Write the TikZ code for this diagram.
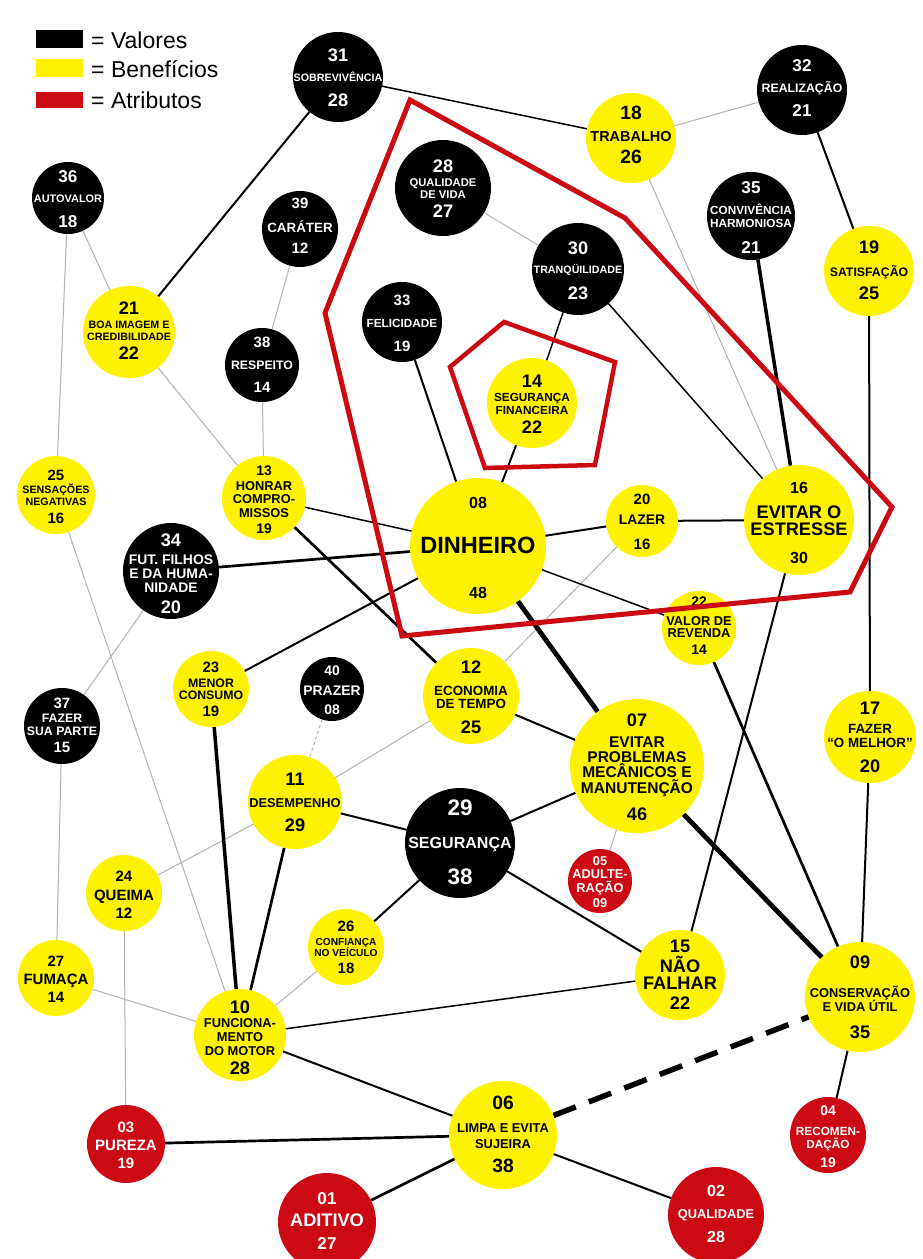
\documentclass[tikz,border=0pt]{standalone}
\usepackage{fontspec}
\setmainfont{Liberation Sans}
\definecolor{nyel}{RGB}{255,242,0}
\definecolor{nred}{RGB}{204,10,20}
\pgfdeclarelayer{bg}
\pgfsetlayers{bg,main}
\newcommand\ntl[3]{\makebox[0pt][c]{\raisebox{\dimexpr0pt-(#1pt)-#2pt*38/100\relax}[0pt][0pt]{\fontsize{\fpeval{#2*1.07}}{10}\selectfont #3}}}
\tikzset{
  nd/.style={circle, inner sep=0pt, outer sep=0pt, font=\bfseries},
  bn/.style={nd, fill=black, text=white},
  yn/.style={nd, fill=nyel, text=black},
  rn/.style={nd, fill=nred, text=white},
  gl/.style={draw=black!30, line width=1},
  ea/.style={draw=black, line width=1.5},
  eb/.style={draw=black, line width=2},
  ec/.style={draw=black, line width=2.7},
  ed/.style={draw=black, line width=3.5},
  ee/.style={draw=black, line width=4.8},
  redline/.style={draw=nred, line join=miter},
  legt/.style={anchor=west, inner sep=0pt, font=\fontsize{23}{23}\selectfont}
}
\begin{document}
\begin{tikzpicture}[x=1pt,y=-1pt]
\useasboundingbox (0,0) rectangle (922,1259);
\clip (0,0) rectangle (922,1259);
% legend
\fill[black] (36,30) rectangle (83,48);
\fill[nyel] (36,59) rectangle (83,77);
\fill[nred] (36,92) rectangle (83,108);
\node[legt] (lv) at (91,40) {= Valores};
\node[legt] (lb) at (91,69) {= Benefícios};
\node[legt] (la) at (91,100) {= Atributos};
% nodes
\node[bn,minimum size=90] (n31) at (338,77) {\ntl{-22}{17}{31}\ntl{1}{10}{SOBREVIVÊNCIA}\ntl{23}{17}{28}};
\node[yn,minimum size=90] (n18) at (631,138) {\ntl{-25}{18}{18}\ntl{-2}{13.5}{TRABALHO}\ntl{19}{18}{26}};
\node[bn,minimum size=90] (n32) at (802,90) {\ntl{-25}{16}{32}\ntl{-2}{11.5}{REALIZAÇÃO}\ntl{20}{16}{21}};
\node[bn,minimum size=88] (n35) at (751,216) {\ntl{-29}{16}{35}\ntl{-6}{11}{CONVIVÊNCIA}\ntl{7}{11}{HARMONIOSA}\ntl{31}{16}{21}};
\node[yn,minimum size=90] (n19) at (869,271) {\ntl{-24}{17}{19}\ntl{1}{11.5}{SATISFAÇÃO}\ntl{22}{17}{25}};
\node[bn,minimum size=72] (n36) at (68,198) {\ntl{-22}{16}{36}\ntl{1}{10.2}{AUTOVALOR}\ntl{23}{16}{18}};
\node[bn,minimum size=76] (n39) at (300,229) {\ntl{-26}{14}{39}\ntl{-1}{12.5}{CARÁTER}\ntl{19}{14}{12}};
\node[bn,minimum size=96] (n28) at (443,188) {\ntl{-22}{17}{28}\ntl{-5}{10.5}{QUALIDADE}\ntl{7}{10.5}{DE VIDA}\ntl{23}{17}{27}};
\node[bn,minimum size=92] (n30) at (578,269) {\ntl{-21}{17}{30}\ntl{1}{10}{TRANQÜILIDADE}\ntl{24}{17}{23}};
\node[bn,minimum size=80] (n33) at (402,322) {\ntl{-22}{14}{33}\ntl{1}{11}{FELICIDADE}\ntl{24}{14}{19}};
\node[yn,minimum size=90] (n14) at (532,403) {\ntl{-22}{17}{14}\ntl{-6}{11}{SEGURANÇA}\ntl{7}{11}{FINANCEIRA}\ntl{24}{17}{22}};
\node[yn,minimum size=136] (n08) at (478,546) {\ntl{-43}{15}{08}\ntl{-1}{22}{DINHEIRO}\ntl{47}{15}{48}};
\node[bn,minimum size=74] (n38) at (262,365) {\ntl{-23}{14}{38}\ntl{0}{11.5}{RESPEITO}\ntl{22}{14}{14}};
\node[yn,minimum size=92] (n21) at (129,332) {\ntl{-24}{17}{21}\ntl{-7}{10}{BOA IMAGEM E}\ntl{5}{10}{CREDIBILIDADE}\ntl{21}{17}{22}};
\node[yn,minimum size=78] (n25) at (56,495) {\ntl{-20}{14}{25}\ntl{-5}{10}{SENSAÇÕES}\ntl{7}{10}{NEGATIVAS}\ntl{23}{14}{16}};
\node[yn,minimum size=84] (n13) at (264,498) {\ntl{-27}{13}{13}\ntl{-12}{12}{HONRAR}\ntl{1}{12}{COMPRO-}\ntl{15}{12}{MISSOS}\ntl{31}{13}{19}};
\node[bn,minimum size=96] (n34) at (171,571) {\ntl{-31}{17}{34}\ntl{-11}{13}{FUT. FILHOS}\ntl{3}{13}{E DA HUMA-}\ntl{17}{13}{NIDADE}\ntl{36}{17}{20}};
\node[yn,minimum size=72] (n20) at (642,521) {\ntl{-22}{14}{20}\ntl{-1}{13}{LAZER}\ntl{23}{14}{16}};
\node[yn,minimum size=110] (n16) at (799,520) {\ntl{-32}{15}{16}\ntl{-8}{17}{EVITAR O}\ntl{9}{17}{ESTRESSE}\ntl{38}{15}{30}};
\node[yn,minimum size=74] (n22) at (699,628) {\ntl{-26}{13}{22}\ntl{-7}{12}{VALOR DE}\ntl{5}{12}{REVENDA}\ntl{22}{13}{14}};
\node[yn,minimum size=76] (n23) at (211,689) {\ntl{-22}{14}{23}\ntl{-6}{11.5}{MENOR}\ntl{6}{11.5}{CONSUMO}\ntl{22}{14}{19}};
\node[bn,minimum size=64] (n40) at (332,689) {\ntl{-18}{13}{40}\ntl{2}{13}{PRAZER}\ntl{21}{13}{08}};
\node[bn,minimum size=76] (n37) at (62,726) {\ntl{-23}{14}{37}\ntl{-8}{11.5}{FAZER}\ntl{5}{11.5}{SUA PARTE}\ntl{21}{14}{15}};
\node[yn,minimum size=96] (n12) at (471,696) {\ntl{-29}{17}{12}\ntl{-5}{12.5}{ECONOMIA}\ntl{8}{12.5}{DE TEMPO}\ntl{31}{17}{25}};
\node[yn,minimum size=134] (n07) at (637,766) {\ntl{-46}{17}{07}\ntl{-24}{14.5}{EVITAR}\ntl{-9}{14.5}{PROBLEMAS}\ntl{6}{14.5}{MECÂNICOS E}\ntl{22}{14.5}{MANUTENÇÃO}\ntl{48}{17}{46}};
\node[yn,minimum size=92] (n17) at (870,737) {\ntl{-29}{17}{17}\ntl{-8}{12.5}{FAZER}\ntl{6}{12.5}{“O MELHOR”}\ntl{29}{17}{20}};
\node[yn,minimum size=94] (n11) at (295,802) {\ntl{-23}{17}{11}\ntl{1}{12}{DESEMPENHO}\ntl{23}{17}{29}};
\node[bn,minimum size=110] (n29) at (460,843) {\ntl{-35}{21}{29}\ntl{0}{15}{SEGURANÇA}\ntl{34}{21}{38}};
\node[rn,minimum size=64] (n05) at (600,881) {\ntl{-20}{12}{05}\ntl{-7}{12}{ADULTE-}\ntl{7}{12}{RAÇÃO}\ntl{22}{12}{09}};
\node[yn,minimum size=76] (n24) at (124,893) {\ntl{-17}{14}{24}\ntl{2}{14}{QUEIMA}\ntl{20}{14}{12}};
\node[yn,minimum size=76] (n26) at (346,947) {\ntl{-21}{14}{26}\ntl{-5}{9.5}{CONFIANÇA}\ntl{6}{9.5}{NO VEÍCULO}\ntl{21}{14}{18}};
\node[yn,minimum size=76] (n27) at (56,978) {\ntl{-17}{14}{27}\ntl{1}{14}{FUMAÇA}\ntl{19}{14}{14}};
\node[yn,minimum size=90] (n15) at (680,975) {\ntl{-29}{17}{15}\ntl{-9}{17}{NÃO}\ntl{8}{17}{FALHAR}\ntl{28}{17}{22}};
\node[yn,minimum size=110] (n09) at (860,997) {\ntl{-35}{17}{09}\ntl{-4}{12}{CONSERVAÇÃO}\ntl{10}{12}{E VIDA ÚTIL}\ntl{35}{17}{35}};
\node[yn,minimum size=92] (n10) at (240,1035) {\ntl{-28}{17}{10}\ntl{-12}{12}{FUNCIONA-}\ntl{2}{12}{MENTO}\ntl{16}{12}{DO MOTOR}\ntl{33}{17}{28}};
\node[yn,minimum size=108] (n06) at (503,1135) {\ntl{-32}{18}{06}\ntl{-7}{12}{LIMPA E EVITA}\ntl{9}{12}{SUJEIRA}\ntl{31}{18}{38}};
\node[rn,minimum size=78] (n03) at (126,1144) {\ntl{-17}{14}{03}\ntl{1}{14}{PUREZA}\ntl{19}{14}{19}};
\node[rn,minimum size=98] (n01) at (327,1222) {\ntl{-24}{16}{01}\ntl{-2}{17}{ADITIVO}\ntl{21}{16}{27}};
\node[rn,minimum size=96] (n02) at (716,1215) {\ntl{-24}{15}{02}\ntl{-1}{12}{QUALIDADE}\ntl{22}{15}{28}};
\node[rn,minimum size=76] (n04) at (828,1135) {\ntl{-24}{13}{04}\ntl{-4}{11}{RECOMEN-}\ntl{9}{11}{DAÇÃO}\ntl{28}{13}{19}};
% connectors
\begin{pgfonlayer}{bg}
\fill[white] (0,0) rectangle (922,1259);
\draw[gl] (n18)--(n32) (n18)--(n16) (n36)--(n25) (n36)--(n21) (n39)--(n38)
  (n38)--(n13) (n21)--(n13) (n28)--(n30) (n20)--(n12) (n25)--(n10)
  (n34)--(n37) (n37)--(n27) (n12)--(n11) (n11)--(n24) (n07)--(n05)
  (n26)--(n10) (n24)--(n03) (n27)--(n10);
\draw[gl,dashed] (n40)--(n11);
\draw[ea] (n31)--(n18) (n30)--(n14) (n30)--(n16) (n13)--(n08) (n08)--(n22) (n15)--(n10);
\draw[eb] (n31)--(n21) (n32)--(n19) (n19)--(n17) (n17)--(n09) (n33)--(n08)
  (n14)--(n08) (n08)--(n20) (n20)--(n16) (n08)--(n23) (n16)--(n15)
  (n12)--(n07) (n11)--(n29) (n29)--(n07) (n29)--(n26) (n29)--(n15)
  (n10)--(n06) (n06)--(n02) (n09)--(n04);
\draw[ec] (n34)--(n08) (n13)--(n12) (n11)--(n10) (n03)--(n06) (n01)--(n06) (n22)--(n09);
\draw[ed] (n35)--(n16) (n23)--(n10);
\draw[ee] (n08)--(n07) (n07)--(n09);
\draw[draw=black, line width=5.5, dash pattern=on 24pt off 14pt] (n06)--(n09);
\end{pgfonlayer}
% red outlines
\draw[redline, line width=5] (410,100)--(625,218)--(892,507)--(850,592)--(402,636)--(325,313)--cycle;
\draw[redline, line width=4.5] (504,322)--(615,362)--(595,465)--(485,468)--(450,367)--cycle;
\end{tikzpicture}
\end{document}
